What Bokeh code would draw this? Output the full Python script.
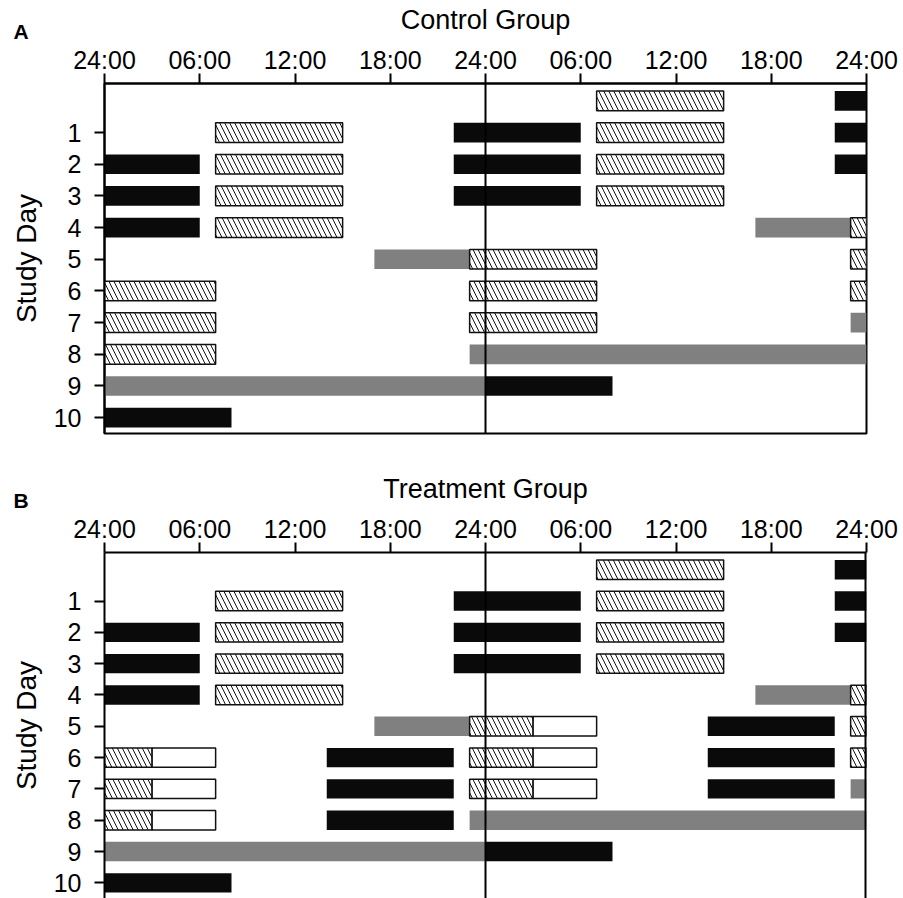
from bokeh.plotting import figure
from bokeh.models import Range1d, FixedTicker, Span, Title
from bokeh.layouts import column
from bokeh.embed import file_html
from bokeh.resources import INLINE

FONT = "Liberation Sans"

hour_ticks = [0, 6, 12, 18, 24, 30, 36, 42, 48]
hour_labels = ["24:00", "06:00", "12:00", "18:00", "24:00", "06:00", "12:00", "18:00", "24:00"]
day_ticks = [1, 2, 3, 4, 5, 6, 7, 8, 9, 10]
day_labels = ["1", "2", "3", "4", "5", "6", "7", "8", "9", "10"]

# Control group (double-plotted, hours 0-48)
ctrl_row = [0, 0,
            1, 1, 1, 1,
            2, 2, 2, 2, 2,
            3, 3, 3, 3,
            4, 4, 4, 4,
            5, 5, 5,
            6, 6, 6,
            7, 7, 7,
            8, 8,
            9, 9,
            10]
ctrl_start = [31, 46,
              7, 22, 31, 46,
              0, 7, 22, 31, 46,
              0, 7, 22, 31,
              0, 7, 41, 47,
              17, 23, 47,
              0, 23, 47,
              0, 23, 47,
              0, 23,
              0, 24,
              0]
ctrl_end = [39, 48,
            15, 30, 39, 48,
            6, 15, 30, 39, 48,
            6, 15, 30, 39,
            6, 15, 47, 48,
            23, 31, 48,
            7, 31, 48,
            7, 31, 48,
            7, 48,
            24, 32,
            8]
ctrl_kind = ["hatch", "black",
             "hatch", "black", "hatch", "black",
             "black", "hatch", "black", "hatch", "black",
             "black", "hatch", "black", "hatch",
             "black", "hatch", "gray", "hatch",
             "gray", "hatch", "hatch",
             "hatch", "hatch", "hatch",
             "hatch", "hatch", "gray",
             "hatch", "gray",
             "gray", "black",
             "black"]

# Treatment group
trt_row = [0, 0,
           1, 1, 1, 1,
           2, 2, 2, 2, 2,
           3, 3, 3, 3,
           4, 4, 4, 4,
           5, 5, 5, 5, 5,
           6, 6, 6, 6, 6, 6, 6,
           7, 7, 7, 7, 7, 7, 7,
           8, 8, 8, 8,
           9, 9,
           10]
trt_start = [31, 46,
             7, 22, 31, 46,
             0, 7, 22, 31, 46,
             0, 7, 22, 31,
             0, 7, 41, 47,
             17, 23, 27, 38, 47,
             0, 3, 14, 23, 27, 38, 47,
             0, 3, 14, 23, 27, 38, 47,
             0, 3, 14, 23,
             0, 24,
             0]
trt_end = [39, 48,
           15, 30, 39, 48,
           6, 15, 30, 39, 48,
           6, 15, 30, 39,
           6, 15, 47, 48,
           23, 27, 31, 46, 48,
           3, 7, 22, 27, 31, 46, 48,
           3, 7, 22, 27, 31, 46, 48,
           3, 7, 22, 48,
           24, 32,
           8]
trt_kind = ["hatch", "black",
            "hatch", "black", "hatch", "black",
            "black", "hatch", "black", "hatch", "black",
            "black", "hatch", "black", "hatch",
            "black", "hatch", "gray", "hatch",
            "gray", "hatch", "white", "black", "hatch",
            "hatch", "white", "black", "hatch", "white", "black", "hatch",
            "hatch", "white", "black", "hatch", "white", "black", "gray",
            "hatch", "white", "black", "gray",
            "gray", "black",
            "black"]

BAR_H = 0.62


def make_panel(rows, starts, ends, kinds, group_title, letter, height, border_top, border_bottom, closed):
    p = figure(width=903, height=height, title=None,
               x_range=Range1d(0, 48), y_range=Range1d(10.5, -0.55),
               x_axis_location="above",
               output_backend="svg", toolbar_location=None,
               min_border_left=104, min_border_right=37,
               min_border_top=border_top, min_border_bottom=border_bottom)
    p.xgrid.visible = False
    p.ygrid.visible = False
    p.background_fill_color = "white"
    p.border_fill_color = "white"
    if closed:
        p.outline_line_color = "black"
        p.outline_line_width = 2
        p.outline_line_alpha = 1
    else:
        p.outline_line_color = None

    def sel(kind):
        idx = [i for i, k in enumerate(kinds) if k == kind]
        return ([rows[i] for i in idx], [starts[i] for i in idx], [ends[i] for i in idx])

    y, l, r = sel("gray")
    if y:
        p.hbar(y=y, left=l, right=r, height=BAR_H, fill_color="#808080", line_color=None)
    y, l, r = sel("black")
    if y:
        p.hbar(y=y, left=l, right=r, height=BAR_H, fill_color="#0a0a0a", line_color=None)
    y, l, r = sel("hatch")
    if y:
        p.hbar(y=y, left=l, right=r, height=BAR_H, fill_color="white", line_color="#111111",
               line_width=1.5, hatch_pattern="\\", hatch_color="#111111", hatch_weight=1,
               hatch_scale=10)
    y, l, r = sel("white")
    if y:
        p.hbar(y=y, left=l, right=r, height=BAR_H, fill_color="white", line_color="#111111",
               line_width=1.5)

    p.add_layout(Span(location=24, dimension="height", line_color="black", line_width=2))
    if not closed:
        p.add_layout(Span(location=48, dimension="height", line_color="black", line_width=4))

    xa = p.xaxis[0]
    xa.ticker = FixedTicker(ticks=hour_ticks)
    xa.major_label_overrides = {t: s for t, s in zip(hour_ticks, hour_labels)}
    xa.major_tick_out = 10
    xa.major_tick_in = 0
    xa.minor_tick_out = 0
    xa.minor_tick_in = 0
    xa.major_tick_line_width = 2
    xa.axis_line_width = 2
    xa.major_label_text_font = FONT
    xa.major_label_text_font_size = "25px"
    xa.major_label_text_color = "black"
    xa.major_label_standoff = 0
    xa.axis_label = group_title
    xa.axis_label_text_font = FONT
    xa.axis_label_text_font_size = "27px"
    xa.axis_label_text_font_style = "normal"
    xa.axis_label_text_color = "black"
    xa.axis_label_standoff = 8

    ya = p.yaxis[0]
    ya.ticker = FixedTicker(ticks=day_ticks)
    ya.major_label_overrides = {t: s for t, s in zip(day_ticks, day_labels)}
    ya.major_tick_out = 10
    ya.major_tick_in = 0
    ya.minor_tick_out = 0
    ya.minor_tick_in = 0
    ya.major_tick_line_width = 2
    ya.axis_line_width = 2
    ya.major_label_text_font = FONT
    ya.major_label_text_font_size = "25px"
    ya.major_label_text_color = "black"
    ya.major_label_standoff = 13
    ya.axis_label = "Study Day"
    ya.axis_label_text_font = FONT
    ya.axis_label_text_font_size = "28px"
    ya.axis_label_text_font_style = "normal"
    ya.axis_label_text_color = "black"
    ya.axis_label_standoff = 9

    # panel letter, placed as an outer title pulled down beside the axis
    t = Title(text=letter, align="left", offset=-91, vertical_align="bottom", standoff=-82,
              text_font=FONT, text_font_size="21px", text_font_style="bold", text_color="black")
    p.add_layout(t, "above")
    return p


pa = make_panel(ctrl_row, ctrl_start, ctrl_end, ctrl_kind, "Control Group", "A", 470, 83, 37, True)
pb = make_panel(trt_row, trt_start, trt_end, trt_kind, "Treatment Group", "B", 428, 78, 0, False)

layout = column(pa, pb, spacing=0)
open("out.html", "w").write(file_html(layout, INLINE))
